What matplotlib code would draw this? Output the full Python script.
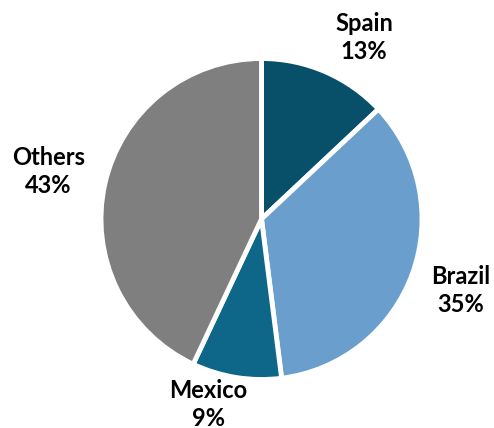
import numpy as np
import matplotlib
matplotlib.use('Agg')
import matplotlib.pyplot as plt

plt.rcParams['font.family'] = ['Lato', 'DejaVu Sans']

# data (clockwise from 12 o'clock)
countries = ['Spain', 'Brazil', 'Mexico', 'Others']
shares = [13, 35, 9, 43]
colors = ['#084f6a', '#6a9fcd', '#0e6688', '#7f7f7f']
# label radial distance (in radii) and angle tweak (deg)
label_dist = [1.30, 1.32, 1.20, 1.36]
label_tweak = [-6.0, 0.0, -7.0, 0.0]

fig = plt.figure(figsize=(4.94, 4.28), dpi=100)
ax = fig.add_axes([0, 0, 1, 1])
ax.set_xlim(0, 494)
ax.set_ylim(0, 428)
ax.set_aspect('equal')
ax.axis('off')

cx, cy, r = 261.5, 209, 160.5
wedges, _ = ax.pie(shares, colors=colors, startangle=90, counterclock=False,
                   center=(cx, cy), radius=r,
                   wedgeprops=dict(edgecolor='white', linewidth=3.5))
ax.set_xlim(0, 494)
ax.set_ylim(0, 428)

for w, name, pct, d, tw in zip(wedges, countries, shares, label_dist, label_tweak):
    mid = np.deg2rad((w.theta1 + w.theta2) / 2 + tw)
    x = cx + d * r * np.cos(mid)
    y = cy + d * r * np.sin(mid)
    ax.text(x, y, f'{name}\n{pct}%', ha='center', va='center',
            fontsize=17, fontweight='bold', color='black', linespacing=1.25)

fig.savefig('out.png', dpi=100)
